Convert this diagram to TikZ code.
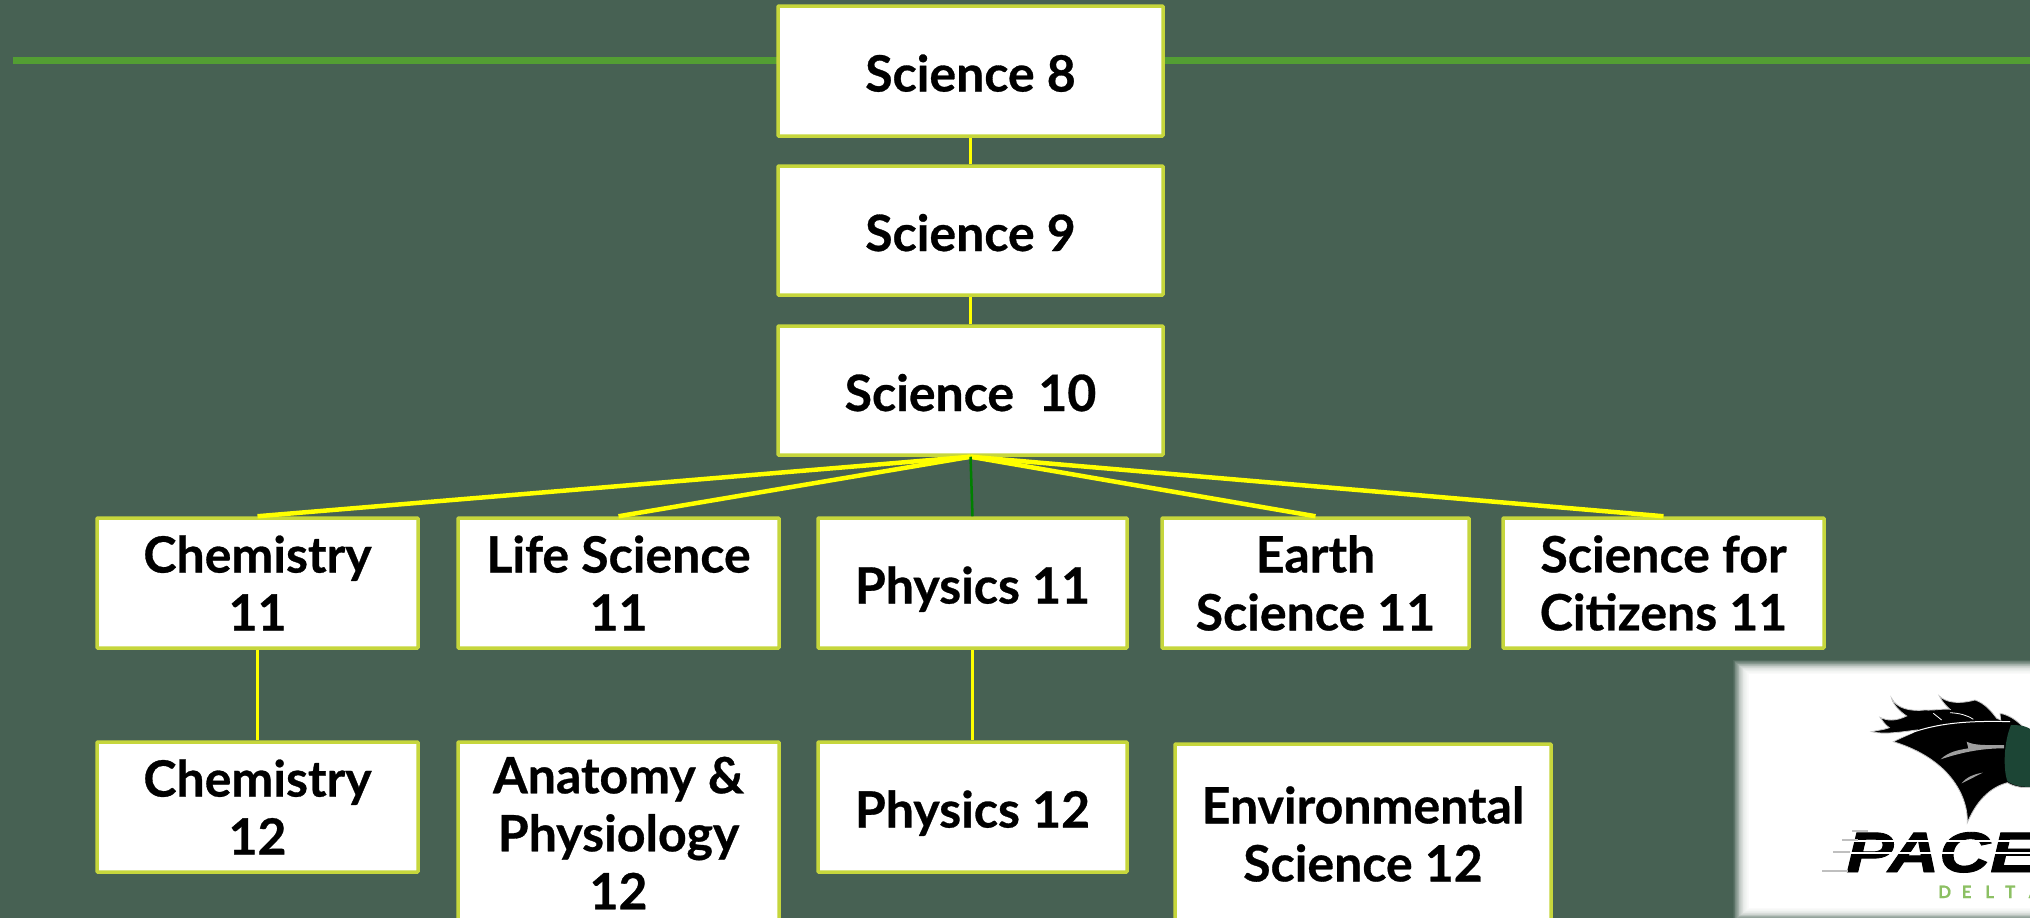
\documentclass[tikz,border=0pt]{standalone}
\usepackage{fontspec}
\setmainfont{Lato}[BoldFeatures={FakeBold=0.6}]
\newfontfamily\logofont{Liberation Sans}[BoldItalicFeatures={FakeBold=1.5}]
\definecolor{bgc}{HTML}{476153}
\definecolor{edgec}{HTML}{C6D63C}
\definecolor{linkc}{HTML}{FFFF00}
\definecolor{rulec}{HTML}{539E33}
\definecolor{darkg}{HTML}{008000}
\definecolor{logog}{HTML}{1C4535}
\definecolor{deltag}{HTML}{8CC063}
\tikzset{
  box/.style={draw=edgec,line width=3.5pt,fill=white,rounded corners=0.8pt,inner sep=0pt,align=center,
    font=\fontsize{50}{58}\selectfont\bfseries,text=black},
  link/.style={draw=linkc},
  mane/.style={fill=black,draw=gray!45,line width=0.8pt},
}
\newcommand{\bx}[6]{% name x0 y0 x1 y1 text
  \node[box,minimum width=#4pt-#2pt,minimum height=#5pt-#3pt] (#1) at ({(#2+#4)/2},{(#3+#5)/2}) {#6};}
\newcommand{\oneline}[1]{\raisebox{-20.5pt}[0pt][0pt]{#1}}
\begin{document}
\begin{tikzpicture}[x=1pt,y=-1pt]
\useasboundingbox (0,0) rectangle (2030,918);
\clip (0,0) rectangle (2030,918);
\fill[bgc] (0,0) rectangle (2030,918);
% rule
\coordinate (rl) at (13,60);
\coordinate (rr) at (2030,60);
\draw[rulec,line width=7pt] (rl) -- (rr);
% logo plate
\foreach \i in {0,...,19}{
  \fill[white,opacity={0.06+0.012*\i}] ({1733+\i*0.8},{660+\i*0.7}) rectangle (2040,{921-\i*0.65});
}
\fill[white] (1748.5,673.5) rectangle (2040,908);
% horse head, in crop coordinates
\begin{scope}[shift={(1850,680)},x=0.3333pt,y=-0.3333pt]
\fill[mane] (65,155) .. controls (85,150) and (100,150) .. (118,143) .. controls (105,135) and (98,122) .. (90,112)
 .. controls (110,122) and (135,125) .. (170,108) .. controls (150,95) and (130,75) .. (125,55)
 .. controls (140,85) and (180,95) .. (225,90) .. controls (250,92) and (285,85) .. (300,88) .. controls (285,75) and (275,62) .. (268,48)
 .. controls (285,65) and (320,75) .. (375,60) .. controls (405,70) and (425,95) .. (440,115)
 -- (452,120) -- (450,100) .. controls (480,105) and (510,125) .. (545,170) -- (545,322)
 .. controls (520,325) and (490,320) .. (472,308) .. controls (430,320) and (385,350) .. (352,428)
 .. controls (355,360) and (310,240) .. (130,185) .. controls (170,165) and (190,160) .. (200,150)
 .. controls (160,155) and (100,165) .. (65,155) -- cycle;
\draw[white,line width=1pt] (130,180) .. controls (220,140) and (300,120) .. (480,125);
\draw[white,line width=0.8pt] (250,100) -- (275,120) (300,98) .. controls (330,100) and (350,105) .. (370,118);
\fill[logog] (483,135) .. controls (460,190) and (460,270) .. (472,303) .. controls (490,318) and (520,322) .. (545,320) -- (545,150) .. controls (525,135) and (500,135) .. (483,135) -- cycle;
\fill[gray!75] (272,238) .. controls (295,215) and (325,210) .. (355,205) -- (350,185) .. controls (375,198) and (420,195) .. (462,195) -- (462,205)
 .. controls (400,205) and (340,215) .. (272,238) -- cycle;
\fill[gray!75] (335,310) .. controls (350,290) and (375,282) .. (398,278) .. controls (375,290) and (355,300) .. (335,310) -- cycle;
\end{scope}
% wordmark
\node[font=\logofont\fontsize{57}{57}\selectfont\bfseries\itshape,text=black,anchor=base west,inner sep=0pt,xscale=1.24] (pace) at (1846,872) {PACE};
\foreach \yy in {841,853}{
  \draw[white,line width=1.5pt] (1850,\yy) -- (2030,\yy);
}
\foreach \yy/\xa/\xb in {831/1852/1868,840/1842/1858,852/1833/1850,871/1822/1848}{
  \draw[gray!50,line width=1.5pt] (\xa,\yy) -- (\xb,\yy);
}
\node[font=\fontsize{17}{17}\selectfont\bfseries,text=deltag,anchor=base west,inner sep=0pt] (delta) at (1938,898) {\makebox[23.5pt][l]{D}\makebox[23.5pt][l]{E}\makebox[20pt][l]{L}\makebox[23.5pt][l]{T}A};
% boxes
\bx{s8}{778}{6}{1163}{136}{\oneline{Science 8}}
\bx{s9}{778}{166}{1163}{295}{\oneline{Science 9}}
\bx{s10}{778}{326}{1163}{455}{\oneline{Science\ \ 10}}
\bx{chem11}{97}{518}{418}{648}{Chemistry\\11}
\bx{life11}{458}{518}{779}{648}{Life Science\\11}
\bx{phys11}{818}{518}{1127}{648}{\oneline{Physics 11}}
\bx{earth11}{1162}{518}{1469}{648}{Earth\\Science 11}
\bx{cit11}{1503}{518}{1824}{648}{Science for\\Citizens 11}
\bx{chem12}{97}{742}{418}{872}{Chemistry\\12}
\bx{anat12}{458}{742}{779}{924}{Anatomy \&\\Physiology\\12}
\bx{phys12}{818}{742}{1127}{872}{\oneline{Physics 12}}
\bx{env12}{1175}{744}{1551}{924}{Environmental\\Science 12}
% connectors
\draw[link,line width=3.5pt] (s8.south) -- (s9.north);
\draw[link,line width=3.5pt] (s9.south) -- (s10.north);
\draw[link,line width=4.5pt] (s10.south) -- (chem11.north);
\draw[link,line width=4.5pt] (s10.south) -- (life11.north);
\draw[link,line width=4.5pt] (s10.south) -- (earth11.north);
\draw[link,line width=4.5pt] (s10.south) -- (cit11.north);
\draw[darkg,line width=2.5pt] (s10.south) -- (phys11.north);
\draw[link,line width=2.5pt] (chem11.south) -- (chem12.north);
\draw[link,line width=2.5pt] (phys11.south) -- (phys12.north);
\end{tikzpicture}
\end{document}
